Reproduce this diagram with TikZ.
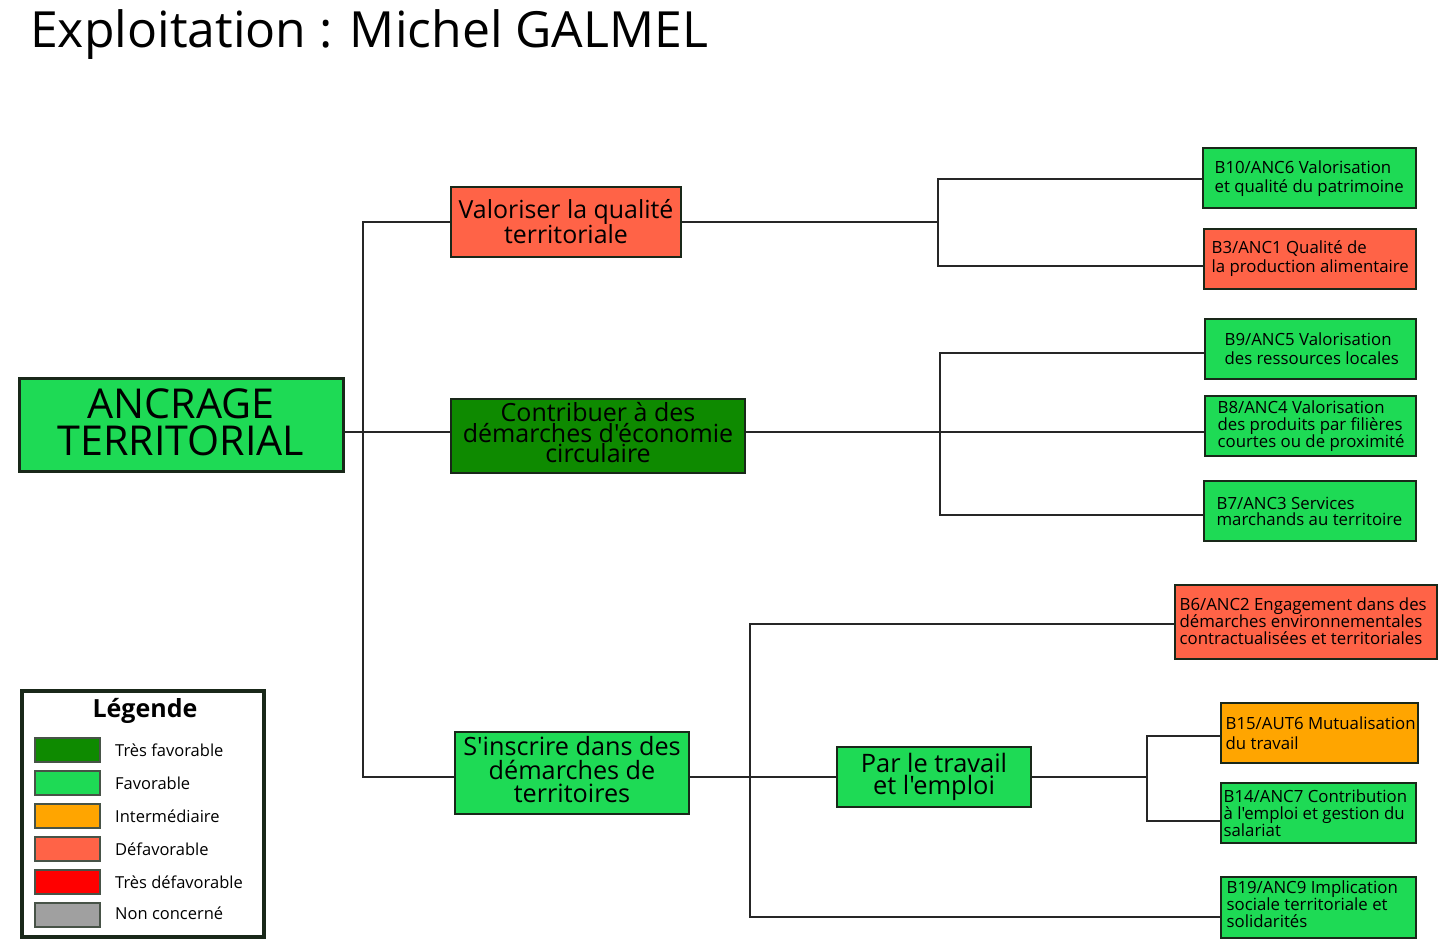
\documentclass[tikz,border=0pt]{standalone}
\usepackage{fontspec}
\setmainfont{Open Sans}[Ligatures=TeXOff]
\definecolor{vfav}{RGB}{14,138,0}
\definecolor{fav}{RGB}{30,218,85}
\definecolor{inter}{RGB}{255,165,0}
\definecolor{defav}{RGB}{255,99,71}
\definecolor{tdefav}{RGB}{255,0,0}
\definecolor{nconc}{RGB}{160,160,160}
\definecolor{edge}{RGB}{25,40,25}
\tikzset{
  box/.style={draw=edge, line width=1.2pt, rectangle, inner sep=0pt},
  conn/.style={draw=black!85, line width=1.1pt},
  stext/.style={anchor=west, align=left, inner sep=0pt, font=\fontsize{16.8}{19}\selectfont},
  stextc/.style={stext, font=\fontsize{16.8}{17}\selectfont},
  mtext/.style={align=center, inner sep=0pt},
  swatch/.style={draw=edge!80, line width=1.5pt, minimum width=65pt, minimum height=24pt, inner sep=0pt},
  legtext/.style={anchor=west, inner sep=0pt, font=\fontsize{16.5}{19}\selectfont}
}
\begin{document}
\begin{tikzpicture}[x=1pt,y=-1pt]
\useasboundingbox (0,0) rectangle (1439,951);
% title
\node[anchor=base west, inner sep=0pt, font=\fontsize{49.9}{52}\selectfont] (title) at (30,47) {Exploitation : Michel GALMEL};

% main boxes
\node[box, line width=3pt, fill=fav, minimum width=324pt, minimum height=93pt] (anc) at (181,424.5) {};
\node[mtext, font=\fontsize{41.2}{37}\selectfont] (anct) at ([yshift=2pt]anc.center) {ANCRAGE\\TERRITORIAL};
\node[box, fill=defav, minimum width=230pt, minimum height=70pt, mtext, font=\fontsize{24.9}{25}\selectfont] (val) at (566,222) {Valoriser la qualité\\territoriale};
\node[box, fill=vfav, minimum width=294pt, minimum height=74pt] (con) at (598,436) {};
\node[mtext, font=\fontsize{25}{20.5}\selectfont] (cont) at ([yshift=3pt]con.center) {Contribuer à des\\démarches d'économie\\circulaire};
\node[box, fill=fav, minimum width=234pt, minimum height=82pt] (ins) at (572,773) {};
\node[mtext, font=\fontsize{25.2}{23.5}\selectfont] (inst) at ([yshift=3pt]ins.center) {S'inscrire dans des\\démarches de\\territoires};
\node[box, fill=fav, minimum width=194pt, minimum height=60pt, mtext, font=\fontsize{25.4}{22.5}\selectfont] (par) at (934,777) {Par le travail\\et l'emploi};

% leaf boxes
\node[box, fill=fav, minimum width=213pt, minimum height=60pt] (b10) at (1309.5,178) {};
\node[stext] (b10t) at ([xshift=12pt,yshift=-1pt]b10.west) {B10/ANC6 Valorisation\\et qualité du patrimoine};
\node[box, fill=defav, minimum width=212pt, minimum height=60pt] (b3) at (1310,259) {};
\node[stext] (b3t) at ([xshift=8pt]b3.west) {B3/ANC1 Qualité de\\la production alimentaire};
\node[box, fill=fav, minimum width=211pt, minimum height=60pt] (b9) at (1310.5,349) {};
\node[stext] (b9t) at ([xshift=20pt]b9.west) {B9/ANC5 Valorisation\\des ressources locales};
\node[box, fill=fav, minimum width=211pt, minimum height=60pt] (b8) at (1310.5,426) {};
\node[stextc] (b8t) at ([xshift=13pt]b8.west) {B8/ANC4 Valorisation\\des produits par filières\\courtes ou de proximité};
\node[box, fill=fav, minimum width=212pt, minimum height=60pt] (b7) at (1310,511) {};
\node[stext, font=\fontsize{16.8}{16}\selectfont] (b7t) at ([xshift=13pt]b7.west) {B7/ANC3 Services\\marchands au territoire};
\node[box, fill=defav, minimum width=262pt, minimum height=74pt] (b6) at (1306,622) {};
\node[stextc] (b6t) at ([xshift=5pt,yshift=1pt]b6.west) {B6/ANC2 Engagement dans des\\démarches environnementales\\contractualisées et territoriales};
\node[box, fill=inter, minimum width=197pt, minimum height=60pt] (b15) at (1319.5,733) {};
\node[stext, font=\fontsize{16.8}{20}\selectfont] (b15t) at ([xshift=5pt]b15.west) {B15/AUT6 Mutualisation\\du travail};
\node[box, fill=fav, minimum width=195pt, minimum height=60pt] (b14) at (1318.5,813) {};
\node[stextc] (b14t) at ([xshift=3pt]b14.west) {B14/ANC7 Contribution\\à l'emploi et gestion du\\salariat};
\node[box, fill=fav, minimum width=195pt, minimum height=61pt] (b19) at (1318.5,907.5) {};
\node[stextc] (b19t) at ([xshift=6pt,yshift=3pt]b19.west) {B19/ANC9 Implication\\sociale territoriale et\\solidarités};

% junctions
\coordinate (j1) at (363,432);
\coordinate (j2) at (938,222);
\coordinate (j3) at (940,432);
\coordinate (j4) at (750,777);
\coordinate (j5) at (1147,777);

% connectors
\draw[conn] ([yshift=-7.5pt]anc.east) -- (j1);
\draw[conn] (val.west) -| (j1) |- ([yshift=-4pt]ins.west);
\draw[conn] (j1) -- ([yshift=4pt]con.west);
\draw[conn] (val.east) -- (j2);
\draw[conn] ([yshift=-1pt]b10.west) -| (j2) |- ([yshift=-7pt]b3.west);
\draw[conn] ([yshift=4pt]con.east) -- (j3) -- ([yshift=-6pt]b8.west);
\draw[conn] ([yshift=-4pt]b9.west) -| (j3) |- ([yshift=-4pt]b7.west);
\draw[conn] ([yshift=-4pt]ins.east) -- (j4) -- (par.west);
\draw[conn] ([yshift=-2pt]b6.west) -| (j4) |- ([yshift=-9.5pt]b19.west);
\draw[conn] (par.east) -- (j5);
\draw[conn] ([yshift=-3pt]b15.west) -| (j5) |- ([yshift=-8pt]b14.west);

% legend
\node[draw=edge, line width=3.5pt, fill=white, minimum width=242pt, minimum height=246pt, inner sep=0pt] (leg) at (143,814) {};
\node[inner sep=0pt, font=\fontsize{25}{27}\selectfont\bfseries] (legt) at (145,711) {Légende};
\node[swatch, fill=vfav] (s1) at (67.5,750) {};
\node[swatch, fill=fav] (s2) at (67.5,783) {};
\node[swatch, fill=inter] (s3) at (67.5,816) {};
\node[swatch, fill=defav] (s4) at (67.5,849) {};
\node[swatch, fill=tdefav] (s5) at (67.5,882) {};
\node[swatch, fill=nconc] (s6) at (67.5,915) {};
\node[legtext] (l1) at (115,750) {Très favorable};
\node[legtext] (l2) at (115,783) {Favorable};
\node[legtext] (l3) at (115,816) {Intermédiaire};
\node[legtext] (l4) at (115,849) {Défavorable};
\node[legtext] (l5) at (115,882) {Très défavorable};
\node[legtext] (l6) at (115,913) {Non concerné};
\end{tikzpicture}
\end{document}
